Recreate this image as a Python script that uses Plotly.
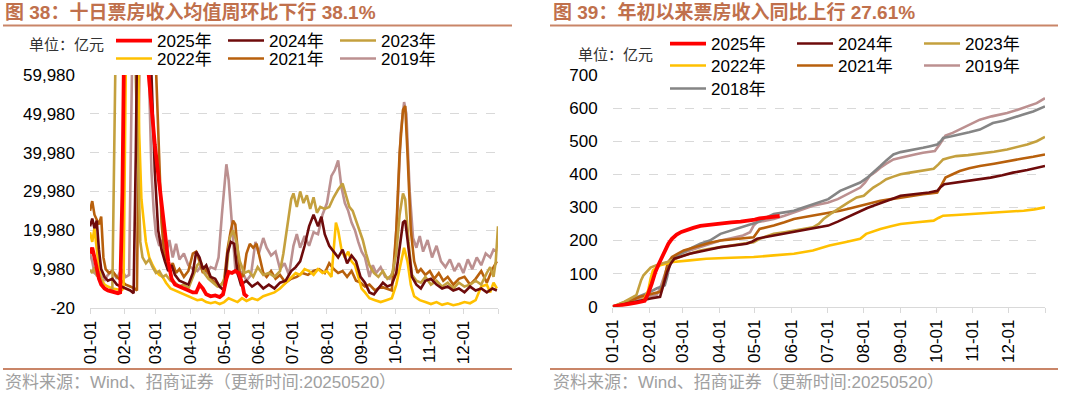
import plotly.graph_objects as go

# ---------------- shared axis labels ----------------
month_tick_days = [0, 31, 59, 90, 120, 151, 181, 212, 243, 273, 304, 334, 365]
month_tick_text = ["01-01", "02-01", "03-01", "04-01", "05-01", "06-01",
                   "07-01", "08-01", "09-01", "10-01", "11-01", "12-01", ""]

left_ytick_vals = [-20, 9980, 19980, 29980, 39980, 49980, 59980]
left_ytick_text = ["-20", "9,980", "19,980", "29,980", "39,980", "49,980", "59,980"]
right_ytick_vals = [0, 100, 200, 300, 400, 500, 600, 700]
right_ytick_text = ["0", "100", "200", "300", "400", "500", "600", "700"]

# ---------------- left chart: 10-day average box office ----------------
l25_days = [0, 2, 4, 6, 8, 10, 13, 16, 19, 22, 25, 27, 29, 31, 33, 45, 50, 54, 58, 62, 65, 67, 70, 73,
            76, 80, 84, 88, 92, 95, 98, 101, 104, 108, 112, 116, 119, 122, 124, 127, 130, 133, 136, 138, 141]
l25_vals = [14000, 15500, 13000, 9500, 7500, 6000, 5000, 4500, 4200, 4000, 3800, 4000, 30000, 80000, 95000,
            85000, 68000, 55000, 42000, 32000, 24000, 19000, 12000, 7500,
            6000, 5500, 5000, 4500, 4000, 4000, 6000, 5000, 3500, 3000, 3200, 2800, 3500, 7500, 9300, 9000,
            9500, 9000, 6500, 3500, 2800]

l24_days = [0, 2, 4, 6, 8, 10, 13, 16, 20, 24, 28, 32, 36, 39, 41, 43, 52, 55, 58, 61, 64, 67, 70, 73, 76,
            80, 84, 88, 92, 95, 98, 101, 104, 108, 112, 116, 120, 123, 126, 129, 132, 135, 140, 145, 150, 155,
            160, 165, 170, 175, 180, 184, 188, 192, 196, 200, 204, 207, 210, 214, 218, 222, 226, 230, 234, 238,
            242, 246, 250, 254, 258, 262, 266, 270, 274, 277, 280, 282, 285, 288, 292, 296, 300, 305, 310, 315,
            320, 325, 330, 335, 340, 345, 350, 355, 360, 364]
l24_vals = [21000, 23000, 20500, 22500, 15000, 10000, 8000, 7000, 7500, 6000, 5500, 5000, 4500, 3800, 40000,
            90000, 90000, 60000, 35000, 20000, 15000, 12000, 9500, 11000, 8500,
            7000, 6500, 6000, 9000, 14500, 13000, 10000, 11000, 8000, 7500, 5500, 4500, 14000, 17000, 16500,
            9000, 6000, 7000, 5500, 6500, 5000,
            6000, 5000, 6500, 7000, 9500, 10500, 12000, 16000, 21000, 24000, 21000, 23500, 19000, 16000, 14500,
            13000, 15000, 11500, 13500, 12000,
            8000, 6500, 4000, 3500, 5000, 6500, 5500, 6000, 9000, 16000, 22000, 22500, 15000, 8000, 6000, 5000,
            7000, 7500, 6000, 5000,
            5500, 4500, 5000, 4000, 5500, 4500, 5000, 4000, 5000, 4500]

l23_days = [0, 2, 4, 6, 8, 10, 12, 14, 17, 20, 22, 24, 38, 41, 43, 45, 47, 50, 53, 56, 59, 62, 65, 68, 72,
            76, 80, 84, 88, 92, 96, 99, 102, 106, 110, 114, 118, 122, 125, 128, 131, 134, 138, 142, 146, 150,
            155, 160, 165, 170, 173, 177, 180, 182, 185, 188, 191, 194, 197, 200, 203, 206, 210, 214, 218, 222,
            226, 229, 232, 235, 238, 241, 244, 247, 250, 254, 258, 262, 266, 270, 274, 277, 280, 282, 285, 288,
            292, 296, 300, 305, 310, 315, 320, 325, 330, 335, 340, 345, 350, 355, 358, 361, 363, 365]
l23_vals = [9800, 9000, 10500, 8500, 9000, 7500, 5500, 4800, 4500, 5000, 45000, 90000, 90000, 60000, 35000,
            17000, 13000, 11500, 12500, 10500, 9000, 9500, 8000, 8500, 7000,
            6500, 5500, 6000, 5000, 8000, 11000, 12000, 9000, 7500, 6500, 5500, 6000, 9000, 18000, 20000,
            17000, 12000, 9000, 9500, 8000, 10500,
            8500, 9000, 8000, 9500, 14000, 22000, 28000, 29500, 26000, 30000, 27000, 29000, 25500, 28500,
            24500, 26000, 25500, 26000, 28500, 30500,
            32000, 29000, 26000, 25000, 22500, 20000, 17500, 14000, 11000, 9000, 8000, 9500, 7500, 8500, 14000,
            24000, 29500, 28000, 17000, 8500,
            7000, 6500, 8000, 6000, 7000, 5500, 6500, 5000, 6500, 5500, 6000, 7000, 6000, 9000, 10500, 8000,
            12000, 21000]

l22_days = [0, 2, 4, 6, 8, 10, 13, 16, 20, 24, 28, 30, 31, 33, 42, 44, 46, 48, 50, 53, 56, 59, 62, 65, 68,
            72, 76, 80, 84, 88, 92, 96, 100, 104, 108, 112, 116, 120, 124, 128, 132, 136, 140, 145, 150, 155,
            160, 165, 170, 175, 180, 184, 188, 192, 196, 200, 204, 208, 212, 216, 218, 220, 222, 225, 228, 231,
            234, 237, 240, 243, 246, 250, 255, 260, 265, 270, 274, 278, 281, 284, 287, 290, 295, 300, 305, 310,
            315, 320, 325, 330, 335, 340, 345, 350, 355, 358, 361, 364]
l22_vals = [19500, 17000, 20500, 15000, 10000, 7500, 6000, 5500, 5000, 4800, 4500, 5000, 40000, 90000,
            90000, 45000, 28000, 22000, 17000, 13000, 11000, 9500, 8500, 8000, 6500,
            5000, 4500, 4000, 3500, 3000, 2500, 2000, 2200, 1500, 1200, 1500, 1000, 1500, 2500, 2000, 1500,
            2500, 1800, 2500, 2000, 3000,
            3500, 4000, 5000, 6500, 8000, 9000, 8500, 10000, 9500, 8500, 10000, 9000, 9500, 8000, 15000, 22000,
            20000, 15000, 13000, 14500,
            12000, 11000, 8000, 5000, 4000, 2500, 2000, 1500, 2000, 2500, 6000, 12000, 15500, 12000, 6000,
            3000, 2000, 1500, 1000, 1500,
            800, 1200, 700, 1000, 1500, 1200, 2000, 5500, 6000, 4000, 6500, 5000]

l21_days = [0, 2, 4, 6, 8, 10, 12, 14, 17, 20, 24, 28, 32, 36, 40, 42, 44, 46, 55, 58, 61, 64, 66, 68, 71,
            74, 77, 80, 84, 88, 92, 95, 98, 101, 104, 108, 112, 116, 120, 123, 126, 128, 130, 132, 134, 137,
            140, 143, 146, 149, 152, 155, 158, 162, 166, 170, 175, 180, 185, 190, 195, 200, 205, 210, 214, 218,
            222, 226, 230, 234, 238, 242, 246, 250, 255, 260, 265, 270, 274, 277, 280, 282, 284, 287, 290, 293,
            296, 300, 304, 308, 312, 316, 320, 325, 330, 335, 340, 345, 350, 355, 360, 364]
l21_vals = [25000, 27500, 24000, 22500, 21500, 23500, 13000, 10000, 9000, 9500, 8000, 7000, 6000, 5500,
            5000, 4500, 60000, 95000, 95000, 70000, 45000, 22000, 15000, 12000, 10000,
            11500, 9000, 10000, 8000, 9500, 14000, 14500, 12000, 9000, 10000, 7500, 6500, 5500, 7000, 15000,
            20000, 22500, 21500, 15000, 9000, 8000,
            14000, 16500, 15500, 16500, 13000, 9000, 8000, 9500, 7500, 8500, 6500, 7500, 8000, 9000, 8500,
            9500, 10000, 9000, 11500, 10000,
            9000, 9500, 8000, 9500, 7000, 6500, 5500, 6000, 4500, 5500, 5000, 4500, 20000, 40000, 51000, 52000,
            40000, 20000, 12000, 9000,
            10000, 8500, 9500, 7500, 9000, 7000, 8000, 6000, 7500, 8000, 6000, 7500, 9500, 6500, 10000, 12000]

l19_days = [0, 2, 4, 6, 8, 10, 13, 16, 20, 24, 28, 32, 35, 37, 39, 50, 53, 55, 57, 59, 62, 65, 68, 71, 74,
            77, 80, 84, 88, 92, 96, 100, 104, 108, 112, 115, 118, 120, 122, 124, 126, 128, 130, 133, 136, 140,
            144, 148, 151, 155, 158, 162, 166, 170, 174, 178, 182, 185, 188, 192, 196, 200, 204, 208, 212, 216,
            219, 222, 225, 228, 231, 234, 237, 240, 243, 246, 250, 253, 256, 260, 264, 268, 272, 275, 278, 281,
            283, 286, 289, 292, 295, 298, 302, 306, 310, 314, 318, 322, 326, 330, 334, 338, 342, 346, 350, 354,
            358, 361, 364]
l19_vals = [14000, 12000, 9000, 8500, 11000, 9500, 7000, 8500, 9500, 7500, 10000, 8000, 8500, 50000, 90000,
            90000, 55000, 35000, 25000, 19000, 16000, 17500, 14000, 17500, 13000,
            16500, 12500, 14000, 11000, 10000, 9500, 11000, 9000, 10500, 10000, 13000, 24000, 31000, 37000,
            33000, 25000, 16000, 10000, 8000, 9500, 7000,
            8500, 17000, 14000, 18000, 15500, 13500, 14500, 10000, 11500, 8500, 16000, 19000, 15500, 18500,
            16000, 19500, 19000, 24000, 27000, 34000,
            35500, 38000, 31000, 27000, 25000, 22000, 20000, 17000, 14500, 13000, 8000, 11000, 9000, 10500,
            8000, 7500, 10000, 25000, 45000, 53000,
            50000, 30000, 18000, 15500, 18500, 14500, 17500, 13000, 16000, 12000, 10500, 12500, 9500, 11500,
            9000, 12500, 10000, 13000, 11000, 14000,
            13000, 15000, 14500]

# ---------------- right chart: cumulative box office (亿元) ----------------
r25_days = [0, 10, 20, 27, 30, 33, 36, 39, 43, 47, 50, 54, 58, 62, 68, 74, 82, 91, 100, 108, 116, 120, 124, 130, 136, 141]
r25_vals = [0, 5, 12, 18, 40, 70, 105, 130, 160, 190, 205, 218, 226, 232, 238, 244, 248, 252, 255, 257, 260, 263, 267, 270, 272, 274]

r24_days = [0, 10, 23, 32, 40, 43, 46, 49, 52, 58, 65, 78, 91, 102, 113, 118, 122, 128, 136, 145, 153, 161, 169, 176,
            182, 190, 198, 204, 209, 215, 220, 226, 231, 237, 243, 251, 259, 267, 274, 277, 280, 290, 299, 309, 319, 329, 338, 350, 365]
r24_vals = [0, 8, 20, 25, 30, 65, 105, 130, 145, 152, 160, 170, 180, 185, 190, 197, 205, 210, 215, 220, 225, 230, 235, 240,
            245, 257, 270, 280, 290, 298, 305, 312, 320, 327, 335, 338, 340, 345, 350, 362, 370, 375, 380, 385, 390, 397, 405, 413, 425]

r23_days = [0, 10, 20, 22, 24, 26, 29, 32, 38, 46, 53, 60, 67, 74, 82, 91, 105, 119, 124, 130, 136, 145, 153, 161, 169,
            174, 178, 185, 192, 199, 206, 212, 216, 220, 226, 231, 237, 243, 251, 259, 265, 271, 275, 279, 284, 290, 300, 310,
            322, 333, 342, 350, 358, 365]
r23_vals = [0, 15, 35, 60, 80, 95, 108, 118, 127, 135, 145, 155, 162, 170, 175, 180, 188, 195, 205, 212, 220, 225, 230, 235, 240,
            250, 265, 283, 300, 315, 330, 335, 348, 360, 373, 385, 393, 400, 405, 410, 413, 417, 430, 445, 450, 455, 458, 462,
            468, 475, 482, 490, 500, 513]

r22_days = [0, 10, 23, 27, 30, 32, 34, 37, 40, 45, 51, 65, 79, 100, 119, 136, 153, 169, 176, 183, 196, 209, 214, 220, 226,
            235, 243, 257, 271, 275, 279, 290, 305, 320, 335, 347, 356, 365]
r22_vals = [0, 6, 15, 25, 50, 85, 110, 118, 125, 130, 135, 140, 145, 148, 150, 155, 160, 170, 177, 185, 195, 205, 220, 228, 235,
            243, 250, 255, 260, 268, 275, 277, 280, 283, 286, 290, 294, 300]

r21_days = [0, 10, 23, 32, 40, 42, 44, 46, 48, 50, 55, 60, 67, 74, 82, 91, 105, 119, 124, 130, 136, 145, 153, 161, 169, 180,
            192, 200, 209, 218, 226, 235, 243, 252, 262, 268, 274, 278, 281, 287, 293, 301, 310, 322, 333, 345, 355, 365]
r21_vals = [0, 10, 30, 38, 45, 60, 95, 125, 140, 150, 160, 170, 177, 185, 193, 200, 205, 210, 235, 240, 245, 255, 265, 270, 275,
            282, 290, 297, 305, 313, 320, 325, 330, 335, 340, 342, 345, 370, 390, 400, 410, 418, 425, 432, 440, 447, 453, 460]

r19_days = [0, 10, 23, 30, 37, 40, 43, 46, 48, 52, 57, 65, 74, 82, 91, 100, 110, 116, 119, 122, 128, 136, 145, 153, 161, 169,
            176, 182, 190, 198, 204, 209, 213, 217, 222, 226, 231, 237, 243, 248, 255, 262, 268, 272, 276, 279, 281, 287, 293,
            301, 310, 320, 333, 342, 350, 358, 365]
r19_vals = [0, 12, 25, 30, 35, 55, 85, 115, 140, 150, 160, 170, 180, 190, 200, 207, 215, 225, 245, 255, 260, 265, 275, 285, 295, 305,
            310, 315, 325, 340, 350, 360, 375, 395, 408, 420, 432, 445, 450, 455, 460, 465, 468, 470, 490, 505, 517, 525, 535,
            548, 565, 575, 585, 595, 605, 615, 630]

r18_days = [0, 10, 20, 30, 37, 44, 46, 48, 51, 55, 60, 67, 74, 82, 91, 100, 108, 115, 122, 129, 136, 145, 153, 161, 169, 176,
            182, 192, 200, 209, 215, 220, 226, 231, 237, 243, 248, 255, 262, 268, 274, 277, 279, 286, 293, 301, 310, 316, 321,
            330, 338, 346, 355, 365]
r18_vals = [0, 15, 28, 42, 55, 65, 90, 125, 145, 155, 165, 178, 190, 200, 220, 230, 240, 248, 255, 268, 280, 285, 290, 300, 310, 318,
            325, 350, 362, 375, 390, 405, 425, 442, 460, 467, 470, 475, 480, 485, 490, 500, 510, 515, 520, 527, 535, 545, 555,
            562, 570, 580, 590, 605]

# ---------------- styling ----------------
colors = {
    "2025年": "#FF0000",
    "2024年": "#6E0B0B",
    "2023年": "#C4A03E",
    "2022年": "#FFC000",
    "2021年": "#B8600C",
    "2019年": "#BC9090",
    "2018年": "#858585",
}
rank = {"2025年": 1, "2024年": 2, "2023年": 3, "2022年": 4, "2021年": 5, "2019年": 6, "2018年": 7}

FONT = "Liberation Sans, Arial, Noto Sans CJK SC, sans-serif"
TITLE_COLOR = "#C0704C"
RULE_COLOR = "#C98568"

fig = go.Figure()

left_series = [
    ("2019年", l19_days, l19_vals, "legend2"),
    ("2021年", l21_days, l21_vals, "legend2"),
    ("2022年", l22_days, l22_vals, "legend2"),
    ("2023年", l23_days, l23_vals, "legend"),
    ("2024年", l24_days, l24_vals, "legend"),
    ("2025年", l25_days, l25_vals, "legend"),
]
for name, d, v, lg in left_series:
    fig.add_trace(go.Scatter(
        x=d, y=v, name=name, mode="lines", xaxis="x", yaxis="y",
        line=dict(color=colors[name], width=3.8 if name == "2025年" else 2.6),
        legend=lg, legendrank=rank[name], hoverinfo="skip"))

right_series = [
    ("2019年", r19_days, r19_vals, "legend4"),
    ("2018年", r18_days, r18_vals, "legend5"),
    ("2021年", r21_days, r21_vals, "legend4"),
    ("2022年", r22_days, r22_vals, "legend4"),
    ("2023年", r23_days, r23_vals, "legend3"),
    ("2024年", r24_days, r24_vals, "legend3"),
    ("2025年", r25_days, r25_vals, "legend3"),
]
for name, d, v, lg in right_series:
    fig.add_trace(go.Scatter(
        x=d, y=v, name=name, mode="lines", xaxis="x2", yaxis="y2",
        line=dict(color=colors[name], width=3.8 if name == "2025年" else 2.6),
        legend=lg, legendrank=rank[name], hoverinfo="skip"))

W, H = 1080, 395


def px_x(p):
    return p / W


def px_y(p):
    return 1 - p / H


xaxis_common = dict(
    tickmode="array", tickvals=month_tick_days, ticktext=month_tick_text,
    tickangle=-90, range=[0, 365], showgrid=False, zeroline=False,
    showline=True, linecolor="#D9D9D9", linewidth=1,
    ticks="outside", ticklen=5, tickcolor="#D9D9D9", automargin=False,
    tickfont=dict(family=FONT, size=17, color="#000000"), fixedrange=True,
)
yaxis_common = dict(
    tickmode="array", showgrid=True, gridcolor="#D9D9D9", griddash="dash", gridwidth=1,
    zeroline=False, showline=False, ticks="", automargin=False,
    tickfont=dict(family=FONT, size=17, color="#000000"), fixedrange=True,
    ticklabelstandoff=14,
)

legend_common = dict(
    orientation="h", xanchor="left", yanchor="middle", bgcolor="rgba(0,0,0,0)",
    borderwidth=0, font=dict(family=FONT, size=17, color="#000000"),
    entrywidthmode="pixels", itemwidth=36, tracegroupgap=0, itemclick=False, itemdoubleclick=False,
)

fig.update_layout(
    width=W, height=H, margin=dict(l=0, r=0, t=0, b=0, pad=0, autoexpand=False),
    paper_bgcolor="white", plot_bgcolor="white", showlegend=True,
    font=dict(family=FONT),
    xaxis=dict(domain=[px_x(90), px_x(498)], anchor="y", **xaxis_common),
    yaxis=dict(domain=[px_y(308), px_y(75)], anchor="x", range=[-20, 59980],
               tickvals=left_ytick_vals, ticktext=left_ytick_text, **yaxis_common),
    xaxis2=dict(domain=[px_x(612.7), px_x(1045)], anchor="y2", **xaxis_common),
    yaxis2=dict(domain=[px_y(306.7), px_y(75)], anchor="x2", range=[0, 700],
                tickvals=right_ytick_vals, ticktext=right_ytick_text, **yaxis_common),
    legend=dict(x=px_x(111), y=px_y(41), entrywidth=61, **legend_common),
    legend2=dict(x=px_x(111), y=px_y(59), entrywidth=61, **legend_common),
    legend3=dict(x=px_x(665), y=px_y(44), entrywidth=76, **legend_common),
    legend4=dict(x=px_x(665), y=px_y(66), entrywidth=76, **legend_common),
    legend5=dict(x=px_x(665), y=px_y(89), entrywidth=76, **legend_common),
)

annotations = [
    dict(text="<b>图 38：十日票房收入均值周环比下行 38.1%</b>", x=px_x(3), y=px_y(12),
         font=dict(family=FONT, size=19, color=TITLE_COLOR)),
    dict(text="<b>图 39：年初以来票房收入同比上行 27.61%</b>", x=px_x(551), y=px_y(12),
         font=dict(family=FONT, size=19, color=TITLE_COLOR)),
    dict(text="单位：亿元", x=px_x(27), y=px_y(44),
         font=dict(family=FONT, size=15, color="#333333")),
    dict(text="单位：亿元", x=px_x(576), y=px_y(55),
         font=dict(family=FONT, size=15, color="#333333")),
    dict(text="资料来源：Wind、招商证券（更新时间:20250520）", x=px_x(3), y=px_y(382),
         font=dict(family=FONT, size=17, color="#A0A0A0")),
    dict(text="资料来源：Wind、招商证券（更新时间:20250520）", x=px_x(551), y=px_y(382),
         font=dict(family=FONT, size=17, color="#A0A0A0")),
]
for a in annotations:
    fig.add_annotation(xref="paper", yref="paper", xanchor="left", yanchor="middle",
                       showarrow=False, **a)

for (x0, x1) in [(3, 512), (550, 1058)]:
    for yy in [25.5, 369]:
        fig.add_shape(type="line", xref="paper", yref="paper",
                      x0=px_x(x0), x1=px_x(x1), y0=px_y(yy), y1=px_y(yy),
                      line=dict(color=RULE_COLOR, width=2))

fig.write_html("out.html", config={"displayModeBar": False, "staticPlot": True},
               post_script="document.body.style.margin='0';document.body.style.overflow='hidden';")
